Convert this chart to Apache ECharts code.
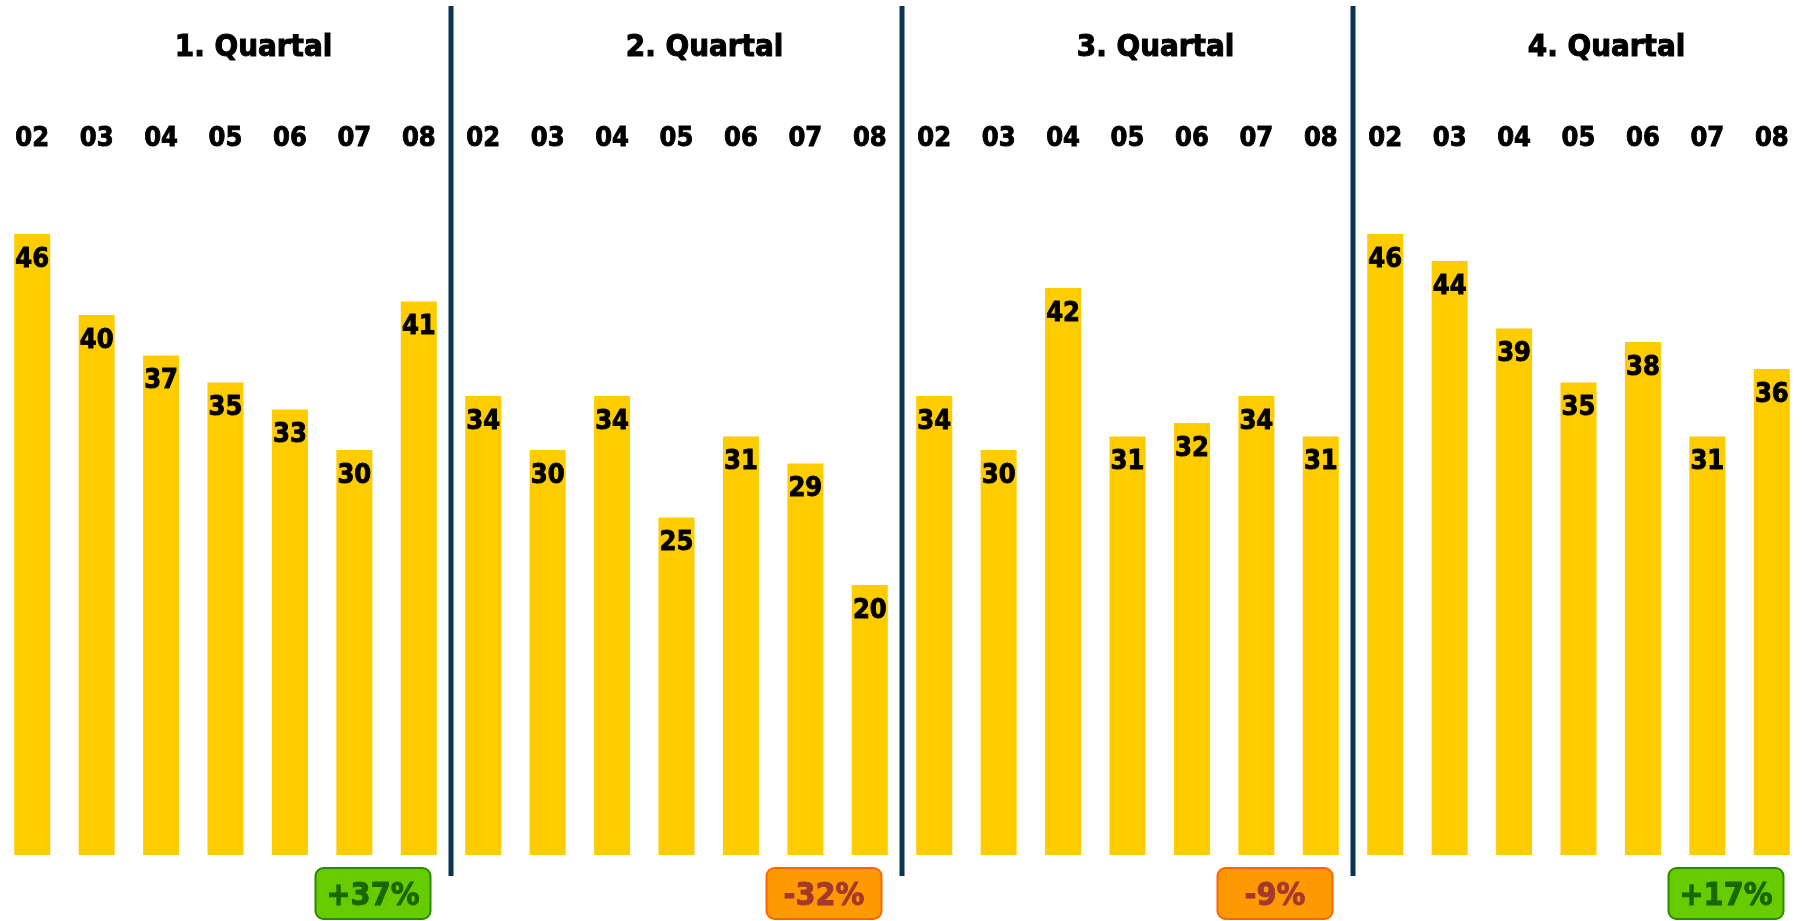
<!DOCTYPE html>
<html>
<head>
<meta charset="utf-8">
<script src="https://cdn.jsdelivr.net/npm/echarts@6/dist/echarts.min.js"></script>
<style>
  html, body { margin: 0; padding: 0; background: #ffffff; }
  #chart { width: 1804px; height: 921px; }
</style>
</head>
<body>
<div id="chart"></div>
<script>
// Years shown in each quarter panel
const years = ['02', '03', '04', '05', '06', '07', '08'];
const quarterTitles = ['1. Quartal', '2. Quartal', '3. Quartal', '4. Quartal'];

// Values per quarter, one per year
const q1Values = [46, 40, 37, 35, 33, 30, 41];
const q2Values = [34, 30, 34, 25, 31, 29, 20];
const q3Values = [34, 30, 42, 31, 32, 34, 31];
const q4Values = [46, 44, 39, 35, 38, 31, 36];

// Change of the latest year against the year before
const changeLabels = ['+37%', '-32%', '-9%', '+17%'];
const changeRising = [true, false, false, true];

const FONT = '"DejaVu Sans Condensed", "DejaVu Sans", Tahoma, sans-serif';
const quarterValues = [q1Values, q2Values, q3Values, q4Values];

// One category per quarter/year pair; the key keeps duplicate years apart
const categoryKeys = [];
const barValues = [];
quarterValues.forEach((vals, qi) => {
  years.forEach((y, yi) => {
    categoryKeys.push('Q' + (qi + 1) + '|' + y);
    barValues.push(vals[yi]);
  });
});

const chart = echarts.init(document.getElementById('chart'), null, { renderer: 'canvas' });

chart.setOption({
  animation: false,
  backgroundColor: '#ffffff',
  grid: { left: 0, right: 0, top: 180, bottom: 66, containLabel: false },
  xAxis: {
    type: 'category',
    position: 'top',
    data: categoryKeys,
    axisLine: { show: false },
    axisTick: { show: false },
    axisLabel: {
      margin: 28,
      interval: 0,
      color: '#000000',
      fontFamily: FONT,
      fontWeight: 'bold',
      fontSize: 27,
      textBorderColor: '#000000',
      textBorderWidth: 0.9,
      formatter: v => v.split('|')[1]
    }
  },
  yAxis: {
    type: 'value',
    min: 0,
    max: 50,
    show: false,
    splitLine: { show: false }
  },
  series: [{
    type: 'bar',
    data: barValues,
    barWidth: 36,
    itemStyle: { color: '#FFCC00' },
    label: {
      show: true,
      position: 'insideTop',
      distance: 12,
      color: '#000000',
      fontFamily: FONT,
      fontWeight: 'bold',
      fontSize: 27,
      textBorderColor: '#000000',
      textBorderWidth: 0.9
    }
  }]
});

// Panel decorations placed from the category axis positions
function px(i) {
  return chart.convertToPixel({ xAxisIndex: 0 }, categoryKeys[i]);
}
const band = px(1) - px(0);
const graphics = [];
quarterTitles.forEach((title, qi) => {
  const first = qi * years.length;
  const last = first + years.length - 1;
  const left = px(first) - band / 2;
  const right = px(last) + band / 2;
  const mid = (left + right) / 2;

  graphics.push({
    type: 'text',
    style: {
      text: title,
      x: mid + 28,
      y: 48,
      textAlign: 'center',
      textVerticalAlign: 'middle',
      font: 'bold 31px ' + FONT,
      fill: '#000000',
      stroke: '#000000',
      lineWidth: 1
    }
  });

  if (qi < quarterTitles.length - 1) {
    graphics.push({
      type: 'line',
      shape: { x1: right, y1: 6, x2: right, y2: 876 },
      style: { stroke: '#08354F', lineWidth: 5 }
    });
  }

  const rising = changeRising[qi];
  const cx = right - 78;
  const w = 115, h = 51;
  graphics.push({
    type: 'rect',
    shape: { x: cx - w / 2, y: 868, width: w, height: h, r: 8 },
    style: {
      fill: rising ? '#66CC00' : '#FF9900',
      stroke: rising ? '#2A8A00' : '#FF6600',
      lineWidth: 2
    }
  });
  const textColor = rising ? '#1A6600' : '#A3392C';
  graphics.push({
    type: 'text',
    style: {
      text: changeLabels[qi],
      x: cx,
      y: 897,
      textAlign: 'center',
      textVerticalAlign: 'middle',
      font: 'bold 32px ' + FONT,
      fill: textColor,
      stroke: textColor,
      lineWidth: 0.9
    }
  });
});

chart.setOption({ graphic: graphics });
</script>
</body>
</html>
